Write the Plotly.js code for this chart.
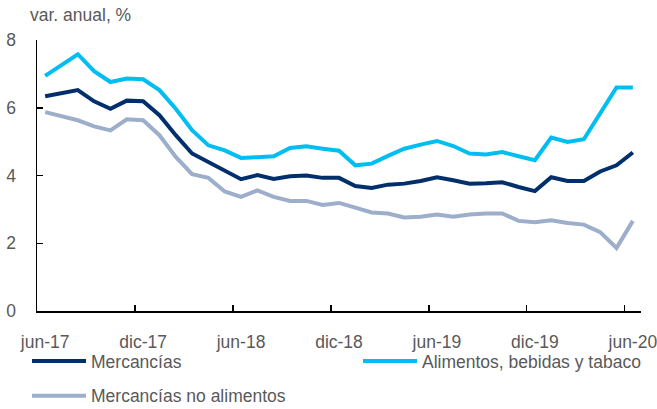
<!DOCTYPE html>
<html>
<head>
<meta charset="utf-8">
<script src="https://cdn.plot.ly/plotly-3.0.1.min.js"></script>
<style>html,body{margin:0;padding:0;background:#fff;}#chart{width:657px;height:409px;}</style>
</head>
<body>
<div id="chart"></div>
<script>
const months = ["jun-17","jul-17","ago-17","sep-17","oct-17","nov-17","dic-17","ene-18","feb-18","mar-18","abr-18","may-18",
  "jun-18","jul-18","ago-18","sep-18","oct-18","nov-18","dic-18","ene-19","feb-19","mar-19","abr-19","may-19",
  "jun-19","jul-19","ago-19","sep-19","oct-19","nov-19","dic-19","ene-20","feb-20","mar-20","abr-20","may-20","jun-20"];
const mercancias = [6.34,6.43,6.52,6.19,5.97,6.21,6.19,5.78,5.19,4.65,4.40,4.13,3.89,4.01,3.90,3.98,4.00,3.93,3.93,3.69,3.63,3.73,3.76,3.84,3.95,3.86,3.76,3.77,3.80,3.66,3.54,3.95,3.84,3.84,4.12,4.30,4.68];
const alimentos = [6.94,7.27,7.58,7.08,6.76,6.86,6.84,6.52,5.97,5.34,4.89,4.74,4.52,4.54,4.57,4.81,4.86,4.79,4.73,4.30,4.35,4.58,4.79,4.91,5.02,4.87,4.65,4.62,4.69,4.57,4.45,5.12,4.99,5.07,5.83,6.60,6.60];
const noAlimentos = [5.87,5.75,5.63,5.45,5.33,5.66,5.63,5.19,4.55,4.04,3.93,3.53,3.37,3.56,3.37,3.25,3.25,3.13,3.19,3.05,2.91,2.88,2.76,2.78,2.85,2.78,2.85,2.88,2.88,2.66,2.62,2.68,2.60,2.55,2.33,1.86,2.66];
const seriesNames = ["Mercancías","Alimentos, bebidas y tabaco","Mercancías no alimentos"];
const yTicks = [0,2,4,6,8];

const FONT = '"Liberation Sans",Arial,sans-serif';
const FS = 17.5;
const TXT = '#595959';
const colors = ['#002F6C','#00BDF2','#9DAECB'];
const legendOf = ['legend','legend2','legend'];
const data = [mercancias, alimentos, noAlimentos].map((ys, k) => ({
  type: 'scatter', mode: 'lines', x: months, y: ys, name: seriesNames[k],
  legend: legendOf[k], legendgroup: 'g' + k,
  line: {color: colors[k], width: 4}, hoverinfo: 'skip'
}));

const legendBase = {orientation: 'v', xref: 'container', yref: 'container', xanchor: 'left', yanchor: 'top',
  itemwidth: 54, tracegroupgap: 9, bgcolor: 'rgba(0,0,0,0)', borderwidth: 0,
  font: {family: FONT, size: FS, color: TXT}};

const layout = {
  width: 657, height: 409,
  margin: {l: 37, r: 16, t: 40, b: 98, autoexpand: false},
  paper_bgcolor: '#fff', plot_bgcolor: '#fff',
  font: {family: FONT, size: FS, color: TXT},
  showlegend: true,
  legend: Object.assign({}, legendBase, {x: 27/657, y: 1 - 343/409}),
  legend2: Object.assign({}, legendBase, {x: 358/657, y: 1 - 343/409}),
  xaxis: {type: 'category', range: [-0.5, 36.5], tickson: 'boundaries', dtick: 6, tick0: 0,
    tickangle: 0, automargin: false,
    ticks: 'inside', ticklen: 6, tickwidth: 1.5, tickcolor: '#000',
    showline: true, linecolor: '#000', linewidth: 1.5, showgrid: false, zeroline: false,
    ticklabelstandoff: 14, tickfont: {family: FONT, size: FS, color: TXT}},
  yaxis: {range: [0, 8], tickvals: yTicks, automargin: false,
    ticks: 'inside', ticklen: 6, tickwidth: 1.5, tickcolor: '#000',
    showline: true, linecolor: '#000', linewidth: 1.5, showgrid: false, zeroline: false,
    ticklabelstandoff: 16, tickfont: {family: FONT, size: FS, color: TXT}},
  annotations: [{text: 'var. anual, %', xref: 'paper', yref: 'paper', x: -0.015, y: 1.092,
    xanchor: 'left', yanchor: 'middle', showarrow: false, font: {family: FONT, size: FS, color: TXT}}]
};
Plotly.newPlot('chart', data, layout, {staticPlot: true, displayModeBar: false});
</script>
</body>
</html>
